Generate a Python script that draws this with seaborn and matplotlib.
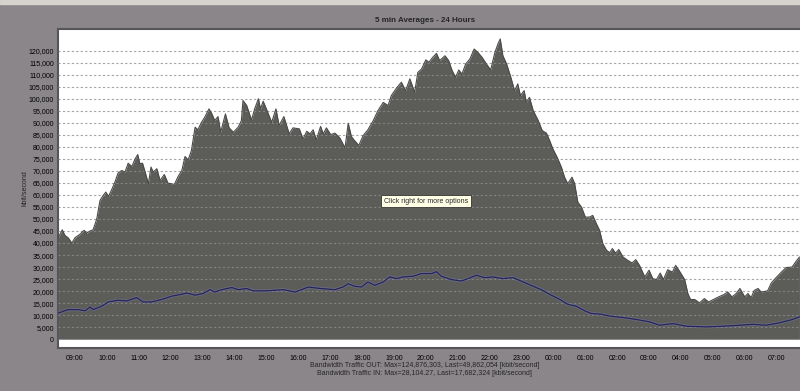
import pandas as pd
import numpy as np
import matplotlib
matplotlib.use("Agg")
import matplotlib.pyplot as plt
import matplotlib.dates as mdates
import matplotlib.ticker as mticker
import seaborn as sns

# Bandwidth OUT, thousands of kbit/second
out_times = [
    "08:29", "08:36", "08:41", "08:47", "08:54", "09:00", "09:09", "09:17", "09:22", "09:28",
    "09:34", "09:41", "09:47", "09:53", "09:58", "10:03", "10:09", "10:15", "10:21", "10:28",
    "10:34", "10:40", "10:47", "10:53", "10:58", "11:02", "11:07", "11:12", "11:18", "11:23",
    "11:27", "11:34", "11:40", "11:48", "11:55", "12:07", "12:14", "12:21", "12:27", "12:33",
    "12:39", "12:46", "12:51", "12:58", "13:04", "13:12", "13:17", "13:23", "13:29", "13:34",
    "13:43", "13:50", "13:58", "14:07", "14:13", "14:16", "14:23", "14:32", "14:38", "14:45",
    "14:49", "14:54", "15:00", "15:10", "15:18", "15:24", "15:33", "15:43", "15:50", "16:02",
    "16:09", "16:16", "16:22", "16:28", "16:34", "16:42", "16:47", "16:53", "17:01", "17:09",
    "17:18", "17:28", "17:34", "17:40", "17:46", "17:54", "18:02", "18:11", "18:21", "18:30",
    "18:40", "18:49", "18:55", "19:05", "19:14", "19:22", "19:30", "19:39", "19:45", "19:52",
    "20:00", "20:06", "20:12", "20:20", "20:26", "20:36", "20:43", "20:49", "20:56", "21:02",
    "21:08", "21:15", "21:23", "21:31", "21:38", "21:46", "21:54", "22:02", "22:10", "22:16",
    "22:20", "22:25", "22:32", "22:40", "22:47", "22:53", "22:58", "23:05", "23:09", "23:15",
    "23:22", "23:31", "23:39", "23:47", "23:53", "23:59", "00:07", "00:15", "00:21", "00:27",
    "00:35", "00:40", "00:46", "00:53", "01:00", "01:08", "01:14", "01:21", "01:27", "01:33",
    "01:40", "01:46", "01:51", "01:57", "02:03", "02:11", "02:20", "02:28", "02:35", "02:42",
    "02:52", "03:00", "03:07", "03:14", "03:21", "03:27", "03:35", "03:44", "03:50", "03:57",
    "04:07", "04:13", "04:18", "04:26", "04:35", "04:44", "04:52", "05:01", "05:11", "05:22",
    "05:28", "05:36", "05:44", "05:51", "06:00", "06:06", "06:12", "06:18", "06:25", "06:31",
    "06:43", "06:50", "06:59", "07:09", "07:18", "07:29", "07:37", "07:43",
]
out_values = [
    42.5, 45.5, 43.2, 42.2, 40.0, 42.2, 43.6, 45.3, 44.1, 45.0,
    45.5, 50.1, 57.7, 59.8, 61.2, 59.4, 62.2, 65.3, 69.1, 70.2,
    69.5, 73.2, 71.8, 75.0, 76.8, 73.0, 73.2, 69.5, 64.7, 71.6,
    69.5, 70.9, 66.0, 68.5, 64.9, 64.4, 67.7, 70.2, 76.0, 74.6,
    78.5, 88.2, 87.1, 90.2, 92.3, 95.8, 94.0, 90.9, 92.6, 86.1,
    93.7, 87.9, 86.1, 88.2, 90.9, 99.3, 97.2, 91.2, 95.8, 100.0,
    95.8, 99.0, 95.8, 90.2, 95.8, 88.9, 92.6, 85.4, 87.9, 87.5,
    83.3, 86.5, 85.4, 87.1, 82.9, 88.5, 85.4, 87.9, 85.1, 85.7,
    83.8, 79.6, 89.8, 84.3, 82.6, 80.6, 84.7, 87.1, 90.9, 95.1,
    98.5, 97.2, 101.3, 104.5, 106.9, 103.4, 108.3, 102.7, 111.0, 112.4,
    116.2, 115.2, 117.0, 118.9, 115.9, 117.9, 115.9, 112.0, 108.9, 112.0,
    110.3, 114.5, 116.6, 120.7, 119.3, 117.2, 114.5, 112.0, 119.3, 123.0,
    124.9, 117.9, 114.5, 108.9, 103.4, 106.2, 101.3, 103.4, 98.5, 100.6,
    95.1, 91.2, 86.8, 85.7, 82.6, 79.2, 75.7, 71.6, 67.4, 64.7,
    67.4, 64.7, 57.0, 54.9, 50.8, 50.8, 51.5, 48.0, 45.3, 39.7,
    37.0, 36.0, 37.7, 35.8, 37.3, 34.2, 32.8, 31.7, 33.1, 30.7,
    25.9, 28.7, 25.2, 24.8, 27.5, 24.8, 28.9, 27.9, 30.7, 28.4,
    24.8, 19.0, 16.5, 16.5, 15.1, 16.9, 15.5, 16.5, 17.6, 18.7,
    19.6, 17.6, 19.0, 21.1, 17.6, 19.0, 17.3, 20.3, 21.1, 19.6,
    20.1, 23.4, 25.6, 27.9, 29.8, 30.0, 32.5, 34.2,
]

# Bandwidth IN, thousands of kbit/second
in_times = [
    "08:29", "08:47", "09:06", "09:19", "09:28", "09:34", "09:50", "10:03", "10:21", "10:37",
    "10:56", "11:08", "11:24", "11:43", "12:02", "12:21", "12:30", "12:46", "13:01", "13:14",
    "13:23", "13:36", "13:55", "14:07", "14:23", "14:35", "15:00", "15:32", "15:54", "16:19",
    "16:41", "17:09", "17:24", "17:34", "17:46", "17:59", "18:11", "18:24", "18:40", "18:52",
    "19:05", "19:17", "19:36", "19:52", "20:11", "20:20", "20:29", "20:48", "21:07", "21:19",
    "21:35", "21:51", "22:06", "22:25", "22:44", "22:59", "23:18", "23:37", "23:56", "00:15",
    "00:27", "00:43", "00:59", "01:11", "01:30", "01:46", "02:11", "02:36", "03:01", "03:20",
    "03:45", "04:10", "04:48", "05:19", "05:50", "06:15", "06:40", "07:05", "07:30", "07:43",
]
in_values = [
    10.9, 12.3, 12.3, 11.8, 13.4, 12.3, 13.7, 15.5, 16.2, 15.9,
    17.3, 15.5, 15.5, 16.5, 17.9, 18.7, 19.2, 18.3, 19.0, 20.6,
    19.6, 20.6, 21.5, 20.6, 21.1, 20.1, 20.1, 20.6, 19.6, 21.7,
    21.1, 20.6, 21.7, 23.1, 22.0, 21.7, 23.8, 22.4, 23.8, 25.9,
    25.2, 25.9, 26.2, 27.3, 27.3, 28.1, 26.2, 24.8, 24.2, 25.2,
    26.6, 25.6, 25.9, 25.2, 25.6, 24.2, 22.4, 20.6, 18.3, 16.2,
    14.5, 13.7, 11.8, 10.7, 10.4, 9.6, 9.0, 8.2, 7.2, 5.8,
    6.5, 5.4, 5.1, 5.4, 5.8, 6.2, 5.8, 6.8, 8.2, 9.3,
]

y_ticks = list(range(0, 120001, 5000))

title = "5 min Averages - 24 Hours"
footer_out = "Bandwidth Traffic OUT: Max=124,876,303, Last=49,862,054 [kbit/second]"
footer_in = "Bandwidth Traffic IN: Max=28,104.27, Last=17,682,324 [kbit/second]"


def to_datetime(times):
    # samples before 08:00 belong to the following day
    stamps = pd.to_datetime(["2024-01-01 " + t for t in times])
    return pd.Series([s + pd.Timedelta(days=1) if s.hour < 8 else s for s in stamps])


out_df = pd.DataFrame({"time": to_datetime(out_times), "kbit": np.array(out_values) * 1000})
in_df = pd.DataFrame({"time": to_datetime(in_times), "kbit": np.array(in_values) * 1000})

sns.set_style("white")
fonts = ["Liberation Sans Narrow", "Liberation Sans", "DejaVu Sans"]
plt.rcParams["font.family"] = fonts

fig = plt.figure(figsize=(8, 3.91), dpi=100, facecolor="#8a8689")
ax = fig.add_axes([0.0725, 0.111, 0.9275, 0.814])
ax.set_facecolor("white")

ax.fill_between(out_df["time"], 0, out_df["kbit"], color="#5c5d59", lw=0, zorder=2)
sns.lineplot(data=out_df, x="time", y="kbit", ax=ax, color="#4a4b48", lw=0.8, zorder=3)
sns.lineplot(data=in_df, x="time", y="kbit", ax=ax, color="#7a7aa0", lw=2.2, alpha=0.5, zorder=4)
sns.lineplot(data=in_df, x="time", y="kbit", ax=ax, color="#23235e", lw=0.9, zorder=5)

ax.set_xlim(pd.Timestamp("2024-01-01 08:28"), pd.Timestamp("2024-01-02 07:44"))
ax.set_ylim(-3500, 128900)
ax.yaxis.set_major_locator(mticker.FixedLocator(y_ticks))
ax.yaxis.set_major_formatter(mticker.FuncFormatter(lambda v, p: f"{v:,.0f}"))
ax.xaxis.set_major_locator(mdates.HourLocator(interval=1))
ax.xaxis.set_major_formatter(mdates.DateFormatter("%H:%M"))

ax.grid(axis="y", color="#8c8c8c", ls=(0, (2, 2)), lw=0.8, alpha=0.8, zorder=6)
ax.set_axisbelow(False)
ax.tick_params(axis="both", length=0, labelsize=5, colors="black")
ax.tick_params(axis="y", pad=3)
ax.tick_params(axis="x", pad=5)
ax.set_xlabel("")
ax.set_ylabel("kbit/second", fontsize=5, labelpad=0)

for side, sp in ax.spines.items():
    sp.set_color("#55555a")
    sp.set_linewidth(1.5)
ax.spines["right"].set_visible(False)

fig.text(0.531, 0.948, title, ha="center", va="center", fontsize=5.8, fontweight="bold")
fig.text(0.531, 0.066, footer_out, ha="center", va="center", fontsize=5)
fig.text(0.531, 0.045, footer_in, ha="center", va="center", fontsize=5)

# tooltip box
ax.text(0.496, 0.46, "Click right for more options", transform=ax.transAxes,
        fontsize=5, ha="center", va="center", zorder=10,
        bbox=dict(boxstyle="square,pad=0.35", fc="#ffffe6", ec="#333333", lw=0.6))

# light window strip along the top
fig.patches.append(plt.Rectangle((0, 0.99), 1, 0.01, transform=fig.transFigure,
                                 color="#d6d3cf", zorder=0))

fig.savefig("out.png", dpi=100, facecolor=fig.get_facecolor())
